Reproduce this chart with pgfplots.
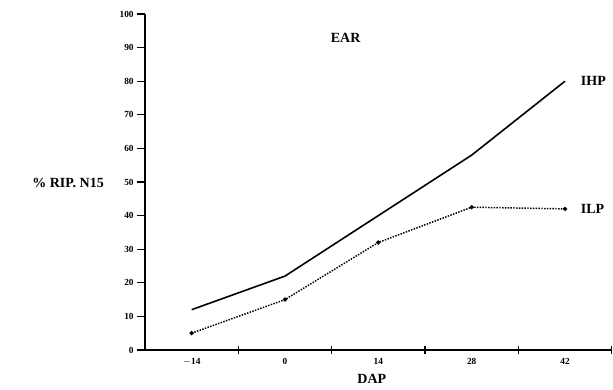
\documentclass[border=0pt]{standalone}
\usepackage{fontspec}
\setmainfont{Liberation Serif}
\usepackage{pgfplots}
\pgfplotsset{compat=1.18}
\begin{document}
\begin{tikzpicture}
\useasboundingbox (-108.75pt,-29.25pt) rectangle (351pt,262.5pt);
\begin{axis}[
  at={(0,0)}, anchor=south west,
  scale only axis, width=350pt, height=252pt,
  xmin=-0.5, xmax=4.5, ymin=0, ymax=100,
  axis x line=bottom, axis y line=left,
  axis line style={-, line width=1.2pt},
  xtick={0.5,1.5,2.5,3.5,4.5},
  xticklabels={},
  xtick style={line width=0.9pt, black},
  extra x ticks={0,1,2,3,4},
  extra x tick labels={$-$14,0,14,28,42},
  extra x tick style={major tick length=0pt, xticklabel style={yshift=-3pt}},
  ytick={0,10,...,100},
  ytick style={line width=0.9pt, black},
  x tick label style={},
  xtick align=center,
  ytick align=outside,
  major tick length=6pt,
  ticklabel style={font=\fontsize{7}{8}\selectfont\bfseries},
  /pgf/number format/assume math mode=true,
  yticklabel style={xshift=1pt},
  clip=false,
]
\addplot[black, line width=1.2pt] coordinates {(0,12) (1,22) (2,40) (3,58) (4,80)};
\addplot[black, line width=1.1pt, densely dotted, mark=*, mark size=1pt, mark options={solid}] coordinates {(0,5) (1,15) (2,32) (3,42.5) (4,42)};
\node[font=\fontsize{10.5}{12}\selectfont\bfseries, anchor=west] at (axis cs:4.12,80) {IHP};
\node[font=\fontsize{10.5}{12}\selectfont\bfseries, anchor=west] at (axis cs:4.12,42) {ILP};
\node[font=\fontsize{10.5}{12}\selectfont\bfseries] at (axis cs:1.65,93) {EAR};
\node[font=\fontsize{10.5}{12}\selectfont\bfseries] at (axis cs:1.93,-8.5) {DAP};
\node[font=\fontsize{10.5}{12}\selectfont\bfseries, anchor=west] at (-88pt,125pt) {\% RIP. N15};
\end{axis}
\end{tikzpicture}
\end{document}
